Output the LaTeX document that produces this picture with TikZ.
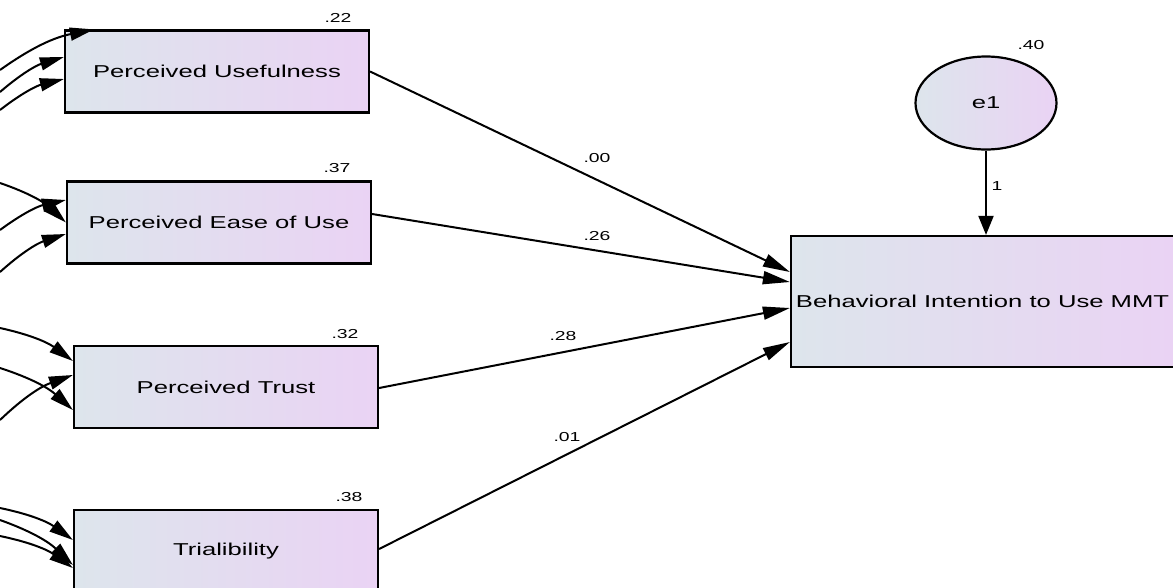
\documentclass[tikz,border=0pt]{standalone}
\usepackage{fontspec}
\setmainfont{Liberation Sans}
\newfontfamily\amosfont[FakeStretch=1.49]{Liberation Sans}
\usetikzlibrary{arrows.meta,shapes.geometric}
\definecolor{gradL}{RGB}{221,229,236}
\definecolor{gradR}{RGB}{234,211,244}
\tikzset{
  varbox/.style={draw=black, line width=2.2pt, left color=gradL, right color=gradR,
    minimum width=304pt, minimum height=82pt, inner sep=0pt,
    font=\amosfont\fontsize{17.2}{20}\selectfont},
  errnode/.style={draw=black, line width=2.2pt, ellipse, left color=gradL, right color=gradR,
    minimum width=141pt, minimum height=93pt, inner sep=0pt,
    font=\amosfont\fontsize{17.2}{20}\selectfont},
  numlab/.style={font=\amosfont\fontsize{13}{15}\selectfont, inner sep=0pt},
  regpath/.style={line width=2pt, -{Triangle[length=27pt,width=13pt]}},
  vpath/.style={line width=2pt, -{Triangle[length=19pt,width=15pt]}},
  cov/.style={line width=2pt, -{Triangle[length=24pt,width=13pt]}, bend left=12}
}
\begin{document}
\begin{tikzpicture}[x=1pt,y=-1pt]
\useasboundingbox (0,0) rectangle (1173,587);
% observed variables
\node[varbox] (b1) at (217,71.5) {Perceived Usefulness};
\node[varbox] (b2) at (219,222.5) {Perceived Ease of Use};
\node[varbox] (b3) at (226,387) {Perceived Trust};
\node[varbox] (b4) at (226,551) {Trialibility};
\node[varbox, minimum width=383pt, minimum height=131pt] (biu) at (982.5,301.5) {Behavioral Intention to Use MMT};
\node[errnode] (e1) at (986,103) {e1};
% variance labels
\node[numlab] (l1) at (338,18) {.22};
\node[numlab] (l2) at (337,168) {.37};
\node[numlab] (l3) at (345,334) {.32};
\node[numlab] (l4) at (349,497) {.38};
\node[numlab] (l5) at (1031,45) {.40};
% regression paths
\draw[regpath] (b1.east) -- ([yshift=29.5pt]biu.west);
\draw[regpath] ([yshift=8.5pt]b2.east) -- ([yshift=19.5pt]biu.west);
\draw[regpath] ([yshift=-1pt]b3.east) -- ([yshift=-6.5pt]biu.west);
\draw[regpath] ([yshift=2pt]b4.east) -- ([yshift=-40.5pt]biu.west);
\draw[vpath] (e1.south) -- (e1.south |- biu.north);
\node[numlab] (p1) at (597,158) {.00};
\node[numlab] (p2) at (597,236) {.26};
\node[numlab] (p3) at (563,336) {.28};
\node[numlab] (p4) at (567,437) {.01};
\node[numlab] (p5) at (997,186) {1};
% covariance arcs (cut at the left edge)
\coordinate (sa) at (0,70);
\coordinate (sb) at (0,92);
\coordinate (sc) at (0,110);
\coordinate (sd) at (0,183);
\coordinate (se) at (0,230);
\coordinate (sf) at (0,272);
\coordinate (sg) at (0,328);
\coordinate (sh) at (0,368);
\coordinate (si) at (0,420);
\coordinate (sj) at (0,508);
\coordinate (sk) at (0,520);
\coordinate (sl) at (0,536);
\draw[cov] (sa) to ([xshift=30pt]b1.north west);
\draw[cov] (sb) to ([yshift=14.5pt]b1.west);
\draw[cov] (sc) to ([yshift=-7.5pt]b1.west);
\draw[cov] (sd) to (b2.west);
\draw[cov] (se) to ([yshift=22.5pt]b2.west);
\draw[cov] (sf) to ([yshift=-11.5pt]b2.west);
\draw[cov] (sg) to ([yshift=26pt]b3.west);
\draw[cov] (sh) to ([yshift=-23pt]b3.west);
\draw[cov] (si) to ([yshift=12pt]b3.west);
\draw[cov] (sj) to ([yshift=11pt]b4.west);
\draw[cov] (sk) to ([yshift=-14pt]b4.west);
\draw[cov] (sl) to ([yshift=-17pt]b4.west);
\end{tikzpicture}
\end{document}
